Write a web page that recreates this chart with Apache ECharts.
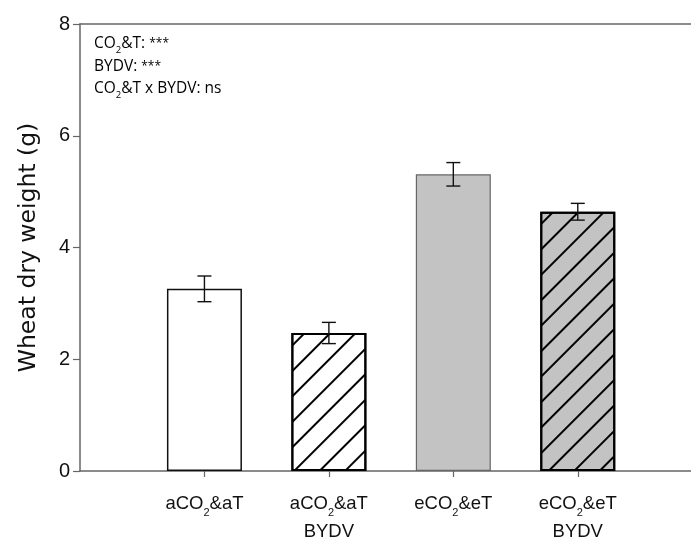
<!DOCTYPE html>
<html>
<head>
<meta charset="utf-8">
<script src="https://cdn.jsdelivr.net/npm/echarts@6/dist/echarts.min.js"></script>
<style>
        html, body { margin: 0; padding: 0; background: #fff; }
        #main { width: 691px; height: 543px; }
</style>
</head>
<body>
<div id="main"></div>
<script>
// 数据
const categories = ['aCO2&aT', 'aCO2&aT\nBYDV', 'eCO2&eT', 'eCO2&eT\nBYDV'];
const meanWeight = [3.26, 2.47, 5.31, 4.64];
const seWeight = [0.23, 0.19, 0.21, 0.15];
const yTicks = [0, 2, 4, 6, 8];

// 样式 (每根柱子)
const fillColors = ['#ffffff', '#ffffff', '#c3c3c3', '#c3c3c3'];
const borderColors = ['#111', '#000', '#666', '#000'];
const borderWidths = [1.5, 2, 1.2, 2];
const hatched = [false, true, false, true];

const hatch = {
        symbol: 'rect',
        symbolSize: 1,
        dashArrayX: [1, 0],
        dashArrayY: [1.8, 16],
        rotation: -Math.PI / 4,
        color: '#000'
};

const xPos = categories.map((c, i) => i);

const barData = meanWeight.map((v, i) => {
        let style = {
                color: fillColors[i],
                borderColor: borderColors[i],
                borderWidth: borderWidths[i]
        };
        if (hatched[i]) style.decal = hatch;
        return { value: [xPos[i], v], itemStyle: style };
});

const errData = meanWeight.map((v, i) => [xPos[i], v - seWeight[i], v + seWeight[i]]);

// x 轴标签 (下标 2)
const fmtLabel = (val) => {
        const idx = Math.round(val);
        if (idx < 0 || idx >= categories.length) return '';
        return categories[idx].split('\n').map(line => {
                const parts = line.split('2');
                if (parts.length === 1) return '{n|' + line + '}';
                return '{n|' + parts[0] + '}{s|2}{n|' + parts[1] + '}';
        }).join('\n');
};

let chart = echarts.init(document.getElementById('main'), null, { renderer: 'canvas' });

let option = {
        animation: false,
        grid: {
                left: 80,
                right: 0,
                top: 24,
                bottom: 72
        },
        xAxis: [{
                type: 'value',
                min: -1,
                max: 3.91,
                interval: 1,
                splitLine: { show: false },
                axisLine: {
                        onZero: false,
                        lineStyle: { color: '#666', width: 1.5 }
                },
                axisTick: {
                        customValues: xPos,
                        length: 6,
                        lineStyle: { color: '#666', width: 1.2 }
                },
                axisLabel: {
                        customValues: xPos,
                        margin: 19,
                        formatter: fmtLabel,
                        rich: {
                                n: {
                                        fontFamily: 'Liberation Sans',
                                        fontSize: 18.5,
                                        color: '#111',
                                        lineHeight: 28
                                },
                                s: {
                                        fontFamily: 'Liberation Sans',
                                        fontSize: 11,
                                        color: '#111',
                                        verticalAlign: 'bottom',
                                        lineHeight: 18
                                }
                        }
                }
        }, {
                type: 'value',
                position: 'top',
                min: -1,
                max: 3.91,
                splitLine: { show: false },
                axisLine: {
                        onZero: false,
                        lineStyle: { color: '#666', width: 1.5 }
                },
                axisTick: { show: false },
                axisLabel: { show: false }
        }],
        yAxis: [{
                type: 'value',
                min: 0,
                max: 8,
                interval: 2,
                name: 'Wheat dry weight (g)',
                nameLocation: 'middle',
                nameGap: 39,
                nameTextStyle: {
                        fontFamily: 'DejaVu Sans',
                        fontSize: 23.5,
                        color: '#111'
                },
                splitLine: { show: false },
                axisLine: {
                        show: true,
                        onZero: false,
                        lineStyle: { color: '#666', width: 1.5 }
                },
                axisTick: {
                        length: 7,
                        lineStyle: { color: '#666', width: 1.2 }
                },
                axisLabel: {
                        margin: 10,
                        fontFamily: 'Liberation Sans',
                        fontSize: 20,
                        color: '#111',
                        formatter: (v) => yTicks.indexOf(v) >= 0 ? String(v) : ''
                }
        }],
        graphic: [{
                type: 'text',
                left: 94,
                top: 36,
                style: {
                        text: '{a|CO}{b|2}{a|&T: }{c|***}\n{a|BYDV: }{c|***}\n{a|CO}{b|2}{a|&T x BYDV: ns}',
                        rich: {
                                a: { fontFamily: 'Open Sans', fontSize: 15.5, color: '#222', lineHeight: 22.5 },
                                b: { fontFamily: 'Open Sans', fontSize: 9.5, color: '#222', lineHeight: 15, verticalAlign: 'bottom' },
                                c: { fontFamily: 'Open Sans', fontSize: 12, color: '#555', lineHeight: 22.5 }
                        }
                }
        }],
        series: [{
                name: 'weight',
                type: 'bar',
                barWidth: 75,
                data: barData,
                z: 2
        }, {
                name: 'se',
                type: 'custom',
                z: 5,
                data: errData,
                renderItem: function (params, api) {
                        const x = api.value(0);
                        const lo = api.coord([x, api.value(1)]);
                        const hi = api.coord([x, api.value(2)]);
                        const half = 7;
                        const st = { stroke: '#111', lineWidth: 1.4 };
                        return {
                                type: 'group',
                                children: [
                                        { type: 'line', shape: { x1: lo[0], y1: lo[1], x2: hi[0], y2: hi[1] }, style: st },
                                        { type: 'line', shape: { x1: hi[0] - half, y1: hi[1], x2: hi[0] + half, y2: hi[1] }, style: st },
                                        { type: 'line', shape: { x1: lo[0] - half, y1: lo[1], x2: lo[0] + half, y2: lo[1] }, style: st }
                                ]
                        };
                }
        }]
};

chart.setOption(option);
</script>
</body>
</html>
